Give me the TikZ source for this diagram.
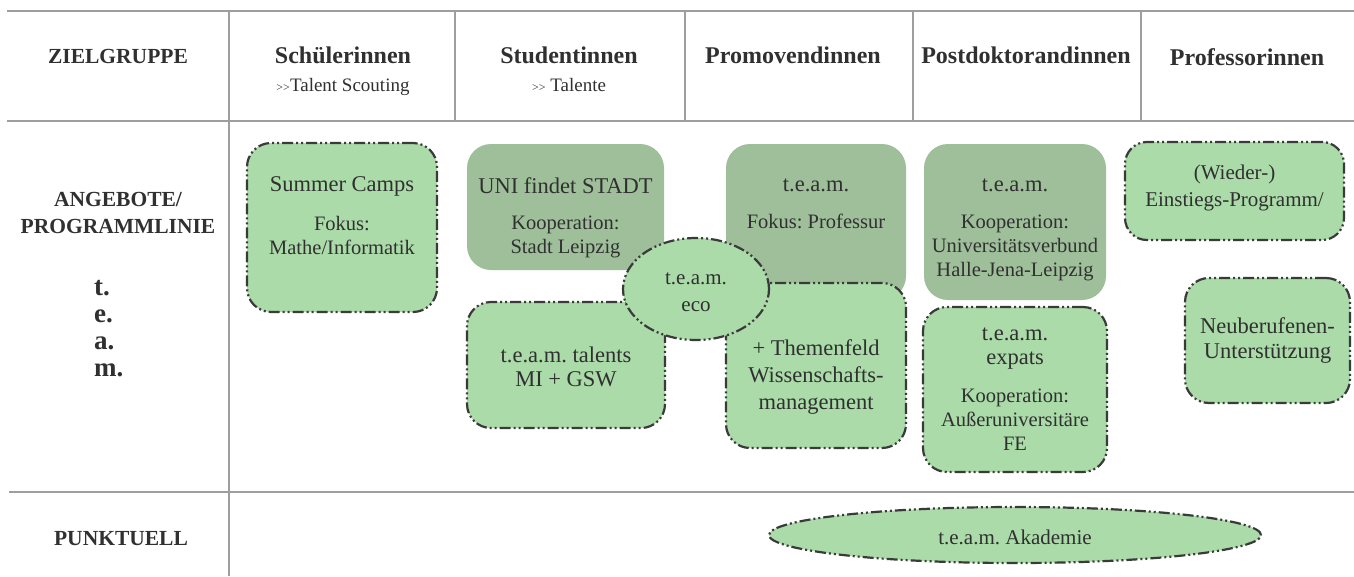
\documentclass[tikz,border=0pt]{standalone}
\usepackage{fontspec}
\setmainfont{Liberation Serif}
\frenchspacing
\definecolor{lightgreen}{RGB}{170,219,168}
\definecolor{darkgreen}{RGB}{158,191,154}
\definecolor{rulegray}{RGB}{158,158,158}
\definecolor{txtgray}{RGB}{48,48,48}
\definecolor{bordergray}{RGB}{58,58,58}
\newcommand{\titlesize}{\fontsize{22.5}{24}\selectfont}
\newcommand{\subsize}{\fontsize{20.5}{24}\selectfont}
\tikzset{
    gridline/.style={draw=rulegray, line width=2.5pt},
    outline/.style={draw=bordergray, line width=2.2pt,
        dash pattern=on 11pt off 3pt on 2pt off 3pt on 2pt off 3pt},
    lightbox/.style={rectangle, rounded corners=24pt, fill=lightgreen, outline, inner sep=0pt},
    darkbox/.style={rectangle, rounded corners=24pt, fill=darkgreen, inner sep=0pt},
    ovalbox/.style={ellipse, fill=lightgreen, outline, inner sep=0pt},
    boxtext/.style={anchor=base, align=center, inner sep=0pt, text=txtgray, font=\subsize},
    headtext/.style={anchor=base, align=center, inner sep=0pt, text=txtgray,
        font=\fontsize{24}{26}\selectfont\bfseries},
    sidetext/.style={anchor=base, align=center, inner sep=0pt, text=txtgray,
        font=\fontsize{21.5}{27}\selectfont\bfseries},
}
\usetikzlibrary{shapes.geometric}
\begin{document}
\begin{tikzpicture}[x=1pt,y=-1pt]
    \useasboundingbox (0,0) rectangle (1354,576);
    % table lines
    \draw[gridline] (7,11) -- (1354,11);
    \draw[gridline] (7,121) -- (1354,121);
    \draw[gridline] (9,492) -- (1354,492);
    \draw[gridline, line width=2pt] (229,11) -- (229,576);
    \foreach \x in {455,685,913,1141}
        \draw[gridline, line width=2pt] (\x,11) -- (\x,121);
    % header (base = last line)
    \node[headtext, font=\fontsize{21.5}{24}\selectfont\bfseries] (zielgruppe) at (118,63) {ZIELGRUPPE};
    \node[headtext] (schuelerinnen) at (343,63) {Schülerinnen};
    \node[boxtext, font=\fontsize{19}{22}\selectfont] (scouting) at (343,91)
        {{\fontsize{12}{12}\selectfont>{}>}Talent Scouting};
    \node[headtext] (studentinnen) at (569,63) {Studentinnen};
    \node[boxtext, font=\fontsize{19}{22}\selectfont] (talente) at (569,91)
        {{\fontsize{12}{12}\selectfont>{}>} Talente};
    \node[headtext] (promovendinnen) at (793,63) {Promovendinnen};
    \node[headtext] (postdoks) at (1026,63) {Postdoktorandinnen};
    \node[headtext] (professorinnen) at (1247,65) {Professorinnen};
    % left column
    \node[sidetext] (angebote) at (118,233) {ANGEBOTE/\\PROGRAMMLINIE};
    \node[sidetext, anchor=base west, align=left, font=\fontsize{27}{27}\selectfont\bfseries]
        (teamletters) at (94,376) {t.\\e.\\a.\\m.};
    \node[sidetext] (punktuell) at (121,545) {PUNKTUELL};
    % boxes
    \node[lightbox, minimum width=190, minimum height=169] (camps) at (342,227.5) {};
    \node[darkbox, minimum width=197, minimum height=126] (uni) at (565.5,207) {};
    \node[lightbox, minimum width=198, minimum height=126] (talents) at (566,365) {};
    \node[darkbox, minimum width=180, minimum height=156] (professur) at (816,222) {};
    \node[lightbox, minimum width=180, minimum height=165] (themenfeld) at (816,365.5) {};
    \node[darkbox, minimum width=182, minimum height=156] (verbund) at (1015,222) {};
    \node[lightbox, minimum width=184, minimum height=165] (expats) at (1015,389.5) {};
    \node[lightbox, minimum width=219, minimum height=98, rounded corners=22pt] (wieder) at (1234.5,191) {};
    \node[lightbox, minimum width=165, minimum height=125] (neu) at (1267.5,340.5) {};
    \node[ovalbox, minimum width=146, minimum height=102] (eco) at (696,289) {};
    \node[ovalbox, minimum width=492, minimum height=56] (akademie) at (1015,535) {};
    % box texts (base = last line)
    \node[boxtext] (campstext) at (camps.center |- 0,254)
        {{\titlesize Summer Camps}\\[15pt]Fokus:\\Mathe/Informatik};
    \node[boxtext] (unitext) at (uni.center |- 0,253)
        {{\titlesize UNI findet STADT}\\[12pt]Kooperation:\\Stadt Leipzig};
    \node[boxtext, font=\titlesize] (talentstext) at (talents.center |- 0,386)
        {t.e.a.m. talents\\MI + GSW};
    \node[boxtext] (professurtext) at (professur.center |- 0,228)
        {{\titlesize t.e.a.m.}\\[13pt]Fokus: Professur};
    \node[boxtext, font=\fontsize{22.5}{27}\selectfont] (themenfeldtext) at (themenfeld.center |- 0,409)
        {+ Themenfeld\\Wissenschafts-\\management};
    \node[boxtext] (verbundtext) at (verbund.center |- 0,276)
        {{\titlesize t.e.a.m.}\\[13pt]Kooperation:\\Universitätsverbund\\Halle-Jena-Leipzig};
    \node[boxtext] (expatstext) at (expats.center |- 0,450)
        {{\titlesize t.e.a.m.}\\{\titlesize expats}\\[14pt]Kooperation:\\Außeruniversitäre\\FE};
    \node[boxtext, font=\fontsize{21}{27}\selectfont] (wiedertext) at (wieder.center |- 0,206)
        {(Wieder-)\\Einstiegs-Programm/};
    \node[boxtext, font=\fontsize{22.5}{25}\selectfont] (neutext) at (neu.center |- 0,358)
        {Neuberufenen-\\Unterstützung};
    \node[boxtext, font=\fontsize{21}{27}\selectfont] (ecotext) at (eco.center |- 0,311)
        {t.e.a.m.\\eco};
    \node[boxtext, font=\fontsize{21}{24}\selectfont] (akademietext) at (akademie.center |- 0,544)
        {t.e.a.m. Akademie};
\end{tikzpicture}
\end{document}
